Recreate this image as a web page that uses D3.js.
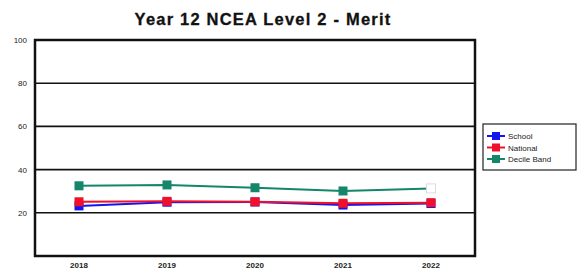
<!DOCTYPE html>
<html><head><meta charset="utf-8">
<script src="https://cdn.jsdelivr.net/npm/d3@7"></script>
<style>body{margin:0;background:#fff}svg{display:block}</style>
</head><body><svg id="c" width="578" height="270"></svg>
<script>
const years = ["2018","2019","2020","2021","2022"];
const school = [23.2, 24.9, 25.0, 23.6, 24.3];
const national = [25.1, 25.3, 25.1, 24.4, 24.7];
const decile = [32.5, 32.9, 31.6, 30.1, 31.3];
const yTicks = [20, 40, 60, 80, 100];
const seriesNames = ["School", "National", "Decile Band"];
const colors = ["#1414f0", "#f0102a", "#14866a"];

const svg = d3.select("#c");
const L = 35, R = 475, T = 40, B = 256;
const x = d3.scalePoint().domain(years).range([L, R]).padding(0.5);
const y = d3.scaleLinear().domain([0, 100]).range([B, T]);

svg.append("text").attr("x", 263).attr("y", 25).attr("text-anchor", "middle")
  .attr("font-family", "Liberation Sans, Arial, sans-serif").attr("font-weight", "bold")
  .attr("font-size", 16.5).attr("letter-spacing", 1.2).attr("fill", "#111")
  .attr("stroke", "#111").attr("stroke-width", 0.3).text("Year 12 NCEA Level 2 - Merit");

// gridlines
svg.append("g").selectAll("line").data(yTicks.filter(d => d < 100)).join("line")
  .attr("x1", L).attr("x2", R).attr("y1", d => y(d)).attr("y2", d => y(d))
  .attr("stroke", "#111").attr("stroke-width", 1.6);

// y labels
svg.append("g").selectAll("text").data(yTicks).join("text")
  .attr("x", 27).attr("y", d => y(d) + 3).attr("text-anchor", "end")
  .attr("font-family", "Liberation Sans, Arial, sans-serif").attr("font-size", 8)
  .attr("fill", "#222").text(d => d);

// x labels
svg.append("g").selectAll("text").data(years).join("text")
  .attr("x", d => x(d)).attr("y", 268).attr("text-anchor", "middle")
  .attr("font-family", "Liberation Sans, Arial, sans-serif").attr("font-size", 8).attr("font-weight", "bold")
  .attr("fill", "#222").text(d => d);

const allSeries = [school, national, decile];
const line = d3.line().x((d, i) => x(years[i])).y(d => y(d));
const order = [2, 0, 1];
order.forEach(si => {
  const vals = allSeries[si];
  svg.append("path").datum(vals).attr("d", line).attr("fill", "none")
    .attr("stroke", colors[si]).attr("stroke-width", 2);
  svg.append("g").selectAll("rect").data(vals).join("rect")
    .attr("x", (d, i) => x(years[i]) - 4.5).attr("y", d => y(d) - 4.5)
    .attr("width", 9).attr("height", 9)
    .attr("fill", (d, i) => (si === 2 && i === 4) ? "#fff" : colors[si])
    .attr("stroke", (d, i) => (si === 2 && i === 4) ? "#ddd" : "none");
});

// frame
svg.append("rect").attr("x", L).attr("y", T).attr("width", R - L).attr("height", B - T)
  .attr("fill", "none").attr("stroke", "#111").attr("stroke-width", 2.5);

// legend
const lg = svg.append("g");
lg.append("rect").attr("x", 483).attr("y", 124).attr("width", 93).attr("height", 46)
  .attr("fill", "#fff").attr("stroke", "#222").attr("stroke-width", 1.2);
seriesNames.forEach((n, i) => {
  const yy = 136 + i * 11.5;
  lg.append("line").attr("x1", 487).attr("x2", 505).attr("y1", yy).attr("y2", yy)
    .attr("stroke", colors[i]).attr("stroke-width", 2);
  lg.append("rect").attr("x", 492).attr("y", yy - 4).attr("width", 8).attr("height", 8).attr("fill", colors[i]);
  lg.append("text").attr("x", 508).attr("y", yy + 3).attr("font-family", "Liberation Sans, Arial, sans-serif")
    .attr("font-size", 8).attr("fill", "#222").text(n);
});
</script></body></html>
